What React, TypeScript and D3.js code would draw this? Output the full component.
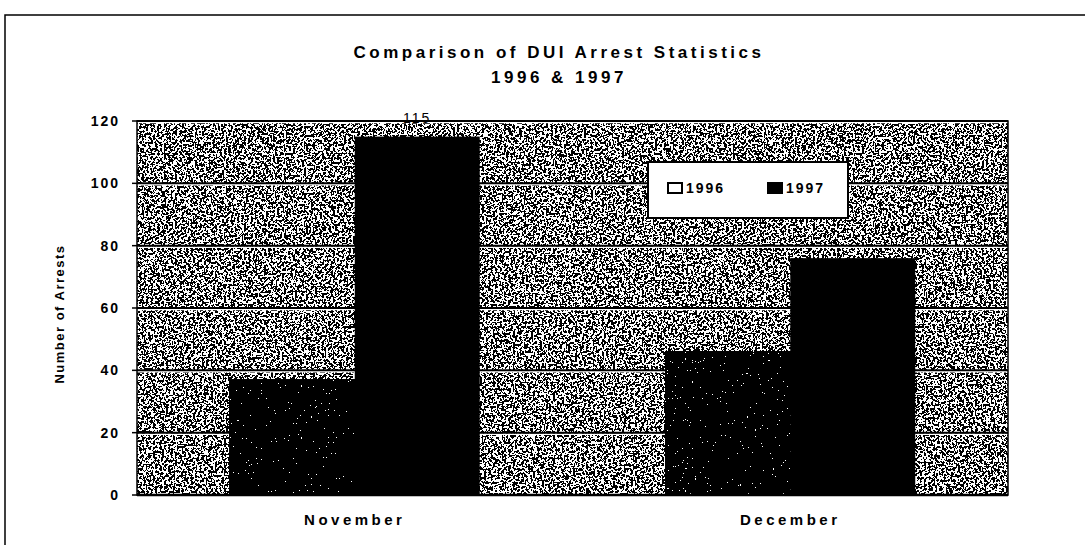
import React, { useEffect, useRef } from 'react';
import * as d3 from 'd3';

const months = ['November', 'December'];
const years = ['1996', '1997'];
const arrests1996 = [37, 46];
const arrests1997 = [115, 76];
const yTicks = [0, 20, 40, 60, 80, 100, 120];

export default function App() {
    const ref = useRef<SVGSVGElement>(null);
    const width = 1085;
    const height = 545;
    const margin = { top: 121, right: 77, bottom: 50, left: 137 };

    useEffect(() => {
        const svg = d3.select(ref.current);
        svg.selectAll('*').remove();
        const font = 'Arial, "Liberation Sans", sans-serif';

        // speckled textures
        const defs = svg.append('defs');
        const makeFilter = (id: string, table: string, seed: number, freq: number) => {
            const f = defs.append('filter')
                .attr('id', id)
                .attr('x', 0).attr('y', 0).attr('width', 1).attr('height', 1);
            f.append('feTurbulence')
                .attr('type', 'fractalNoise')
                .attr('baseFrequency', freq)
                .attr('numOctaves', 2)
                .attr('seed', seed);
            f.append('feColorMatrix')
                .attr('type', 'matrix')
                .attr('values', '1 0 0 0 0  1 0 0 0 0  1 0 0 0 0  0 0 0 0 1');
            const ct = f.append('feComponentTransfer');
            ['feFuncR', 'feFuncG', 'feFuncB'].forEach(fn => {
                ct.append(fn).attr('type', 'discrete').attr('tableValues', table);
            });
        };
        makeFilter('speckle', '0 1', 4, 0.45);
        makeFilter('darkspeckle', '0 0 0 1', 9, 0.6);

        // outer frame
        svg.append('path')
            .attr('d', `M5,545 L5,15 L1085,15`)
            .attr('fill', 'none')
            .attr('stroke', '#000')
            .attr('stroke-width', 1.5);

        const x0 = d3.scaleBand()
            .domain(months)
            .range([margin.left, width - margin.right])
            .paddingInner(0.426)
            .paddingOuter(0.213);
        const x1 = d3.scaleBand()
            .domain(years)
            .range([0, x0.bandwidth()]);
        const y = d3.scaleLinear()
            .domain([0, 120])
            .range([height - margin.bottom, margin.top]);

        const plotW = width - margin.right - margin.left;
        const plotH = y(0) - y(120);

        // plot background
        svg.append('rect')
            .attr('x', margin.left).attr('y', y(120))
            .attr('width', plotW).attr('height', plotH)
            .attr('fill', '#888')
            .attr('filter', 'url(#speckle)');

        // gridlines
        const grid = svg.append('g');
        yTicks.filter(t => t > 0).forEach(t => {
            grid.append('line')
                .attr('x1', margin.left).attr('x2', width - margin.right)
                .attr('y1', y(t) + 1.5).attr('y2', y(t) + 1.5)
                .attr('stroke', '#fff').attr('stroke-width', 1.5);
            grid.append('line')
                .attr('x1', margin.left).attr('x2', width - margin.right)
                .attr('y1', y(t)).attr('y2', y(t))
                .attr('stroke', '#000').attr('stroke-width', 2);
        });

        // bars
        const rows = months.map((m, i) => ({ month: m, values: [arrests1996[i], arrests1997[i]] }));
        const groups = svg.append('g')
            .selectAll('g')
            .data(rows)
            .enter().append('g')
            .attr('transform', d => 'translate(' + x0(d.month) + ',0)');
        groups.selectAll('rect')
            .data(d => d.values.map((v, j) => ({ year: years[j], value: v })))
            .enter().append('rect')
            .attr('x', d => x1(d.year)!)
            .attr('y', d => y(d.value))
            .attr('width', x1.bandwidth())
            .attr('height', d => y(0) - y(d.value))
            .attr('fill', '#000')
            .attr('filter', d => d.year === '1996' ? 'url(#darkspeckle)' : null);

        // plot border
        svg.append('rect')
            .attr('x', margin.left).attr('y', y(120))
            .attr('width', plotW).attr('height', plotH)
            .attr('fill', 'none')
            .attr('stroke', '#000')
            .attr('stroke-width', 1.5);
        svg.append('line')
            .attr('x1', margin.left).attr('x2', width - margin.right)
            .attr('y1', y(0)).attr('y2', y(0))
            .attr('stroke', '#000').attr('stroke-width', 2.5);

        // data label
        svg.append('text')
            .attr('x', x0('November')! + x1('1997')! + x1.bandwidth() / 2)
            .attr('y', y(arrests1997[0]) - 14)
            .attr('text-anchor', 'middle')
            .attr('font-family', font)
            .attr('font-size', 14)
            .attr('letter-spacing', 2)
            .text(arrests1997[0]);

        // y axis
        const yAxis = svg.append('g');
        yTicks.forEach(t => {
            yAxis.append('line')
                .attr('x1', margin.left - 5).attr('x2', margin.left)
                .attr('y1', y(t)).attr('y2', y(t))
                .attr('stroke', '#000').attr('stroke-width', 1.5);
            yAxis.append('text')
                .attr('x', margin.left - 17)
                .attr('y', y(t))
                .attr('dy', '0.35em')
                .attr('text-anchor', 'end')
                .attr('font-family', font)
                .attr('font-weight', 'bold')
                .attr('font-size', 14)
                .attr('letter-spacing', 2)
                .text(t);
        });
        svg.append('text')
            .attr('transform', 'translate(64,314) rotate(-90)')
            .attr('text-anchor', 'middle')
            .attr('font-family', font)
            .attr('font-weight', 'bold')
            .attr('font-size', 13)
            .attr('letter-spacing', 1.5)
            .text('Number of Arrests');

        // x labels
        months.forEach(m => {
            svg.append('text')
                .attr('x', x0(m)! + x0.bandwidth() / 2)
                .attr('y', 525)
                .attr('text-anchor', 'middle')
                .attr('font-family', font)
                .attr('font-weight', 'bold')
                .attr('font-size', 15)
                .attr('letter-spacing', 3.5)
                .text(m);
        });

        // title
        [['Comparison of DUI Arrest Statistics', 58], ['1996 & 1997', 83]].forEach(([txt, ty]) => {
            svg.append('text')
                .attr('x', 559).attr('y', ty as number)
                .attr('text-anchor', 'middle')
                .attr('font-family', font)
                .attr('font-weight', 'bold')
                .attr('font-size', 17)
                .attr('letter-spacing', 3.5)
                .text(txt as string);
        });

        // legend
        const legend = svg.append('g').attr('transform', 'translate(648,162)');
        legend.append('rect')
            .attr('width', 200).attr('height', 56)
            .attr('fill', '#fff')
            .attr('stroke', '#000')
            .attr('stroke-width', 2);
        const legendX = [20, 120];
        years.forEach((yr, i) => {
            legend.append('rect')
                .attr('x', legendX[i]).attr('y', 21)
                .attr('width', 14).attr('height', 10)
                .attr('fill', i === 0 ? '#fff' : '#000')
                .attr('stroke', '#000')
                .attr('stroke-width', 2);
            legend.append('text')
                .attr('x', legendX[i] + 18).attr('y', 31)
                .attr('font-family', font)
                .attr('font-weight', 'bold')
                .attr('font-size', 14)
                .attr('letter-spacing', 2)
                .text(yr);
        });
    }, []);

    return (
        <svg ref={ref} width={width} height={height}
            style={{ position: 'absolute', left: 0, top: 0, background: '#fff' }} />
    );
}
